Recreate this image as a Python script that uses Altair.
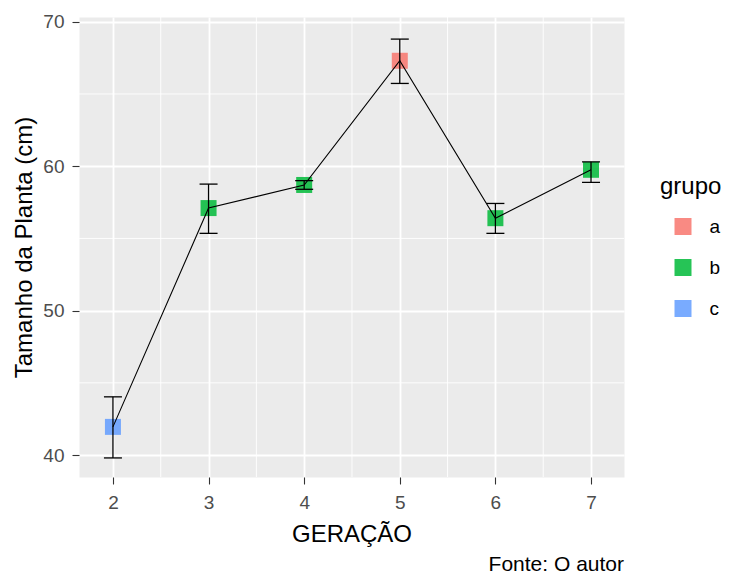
import altair as alt
import pandas as pd

# ---- data ----
geracao = [2, 3, 4, 5, 6, 7]
tamanho = [41.95, 57.1, 58.7, 67.3, 56.4, 59.75]
erro_inf = [39.8, 55.35, 58.4, 65.73, 55.35, 58.88]
erro_sup = [44.03, 58.76, 59.0, 68.8, 57.42, 60.3]
grupo = ["c", "b", "b", "a", "b", "b"]

grupos = ["a", "b", "c"]
cores = ["#F8766D", "#00BA38", "#619CFF"]

x_ticks = [2, 3, 4, 5, 6, 7]
y_ticks = [40, 50, 60, 70]
x_minor = [2.5, 3.5, 4.5, 5.5, 6.5]
y_minor = [45, 55, 65]

x_domain = [1.645, 7.345]
y_domain = [38.48, 70.33]

FONT = "Liberation Sans"

df = pd.DataFrame({
    "geracao": geracao,
    "tamanho": tamanho,
    "erro_inf": erro_inf,
    "erro_sup": erro_sup,
    "grupo": grupo,
})
df_xminor = pd.DataFrame({"geracao": x_minor})
df_yminor = pd.DataFrame({"tamanho": y_minor})

xscale = alt.Scale(domain=x_domain, nice=False, zero=False)
yscale = alt.Scale(domain=y_domain, nice=False, zero=False)

x_axis = alt.Axis(values=x_ticks, title="GERAÇÃO", titleY=64, titleBaseline="alphabetic",
                  labelPadding=9, format="d")
y_axis = alt.Axis(values=y_ticks, title="Tamanho da Planta (cm)", titleX=-48,
                  titleBaseline="alphabetic", labelPadding=8, format="d")


def X(field):
    return alt.X(field, type="quantitative", scale=xscale, axis=x_axis)


def Y(field):
    return alt.Y(field, type="quantitative", scale=yscale, axis=y_axis)


minor_x = alt.Chart(df_xminor).mark_rule(color="white", strokeWidth=0.9).encode(x=X("geracao"))
minor_y = alt.Chart(df_yminor).mark_rule(color="white", strokeWidth=0.9).encode(y=Y("tamanho"))

base = alt.Chart(df)

points = base.mark_point(shape="square", filled=True, size=256, opacity=0.85).encode(
    x=X("geracao"),
    y=Y("tamanho"),
    color=alt.Color(
        "grupo:N",
        scale=alt.Scale(domain=grupos, range=cores),
        legend=alt.Legend(
            title="grupo", orient="none", legendX=581, legendY=158,
            symbolType="square", symbolSize=289, symbolOpacity=0.85,
            symbolStrokeWidth=0, symbolOffset=13.5, labelOffset=17,
            rowPadding=21, titlePadding=18, padding=0,
            titleFontSize=24, titleFont=FONT, titleFontWeight="normal", titleColor="black",
            labelFontSize=19, labelFont=FONT, labelColor="black",
        ),
    ),
)

bars = base.mark_rule(color="black", strokeWidth=1.3).encode(
    x=X("geracao"), y=Y("erro_inf"), y2="erro_sup:Q",
)
cap_lo = base.mark_tick(orient="horizontal", size=18, thickness=1.3, color="black", opacity=1).encode(
    x=X("geracao"), y=Y("erro_inf"),
)
cap_hi = base.mark_tick(orient="horizontal", size=18, thickness=1.3, color="black", opacity=1).encode(
    x=X("geracao"), y=Y("erro_sup"),
)
line = base.mark_line(color="black", strokeWidth=1.1).encode(
    x=X("geracao"), y=Y("tamanho"),
)

chart = alt.layer(minor_x, minor_y, points, bars, cap_lo, cap_hi, line).properties(
    width=545,
    height=460,
    autosize=alt.AutoSizeParams(type="none"),
    padding={"left": 71, "top": 9, "right": 98, "bottom": 98},
    title=alt.TitleParams(
        "Fonte: O autor", orient="bottom", anchor="end", baseline="top", frame="group",
        fontSize=21, font=FONT, fontWeight="normal", color="black", offset=8,
    ),
).configure_view(
    fill="#EBEBEB", stroke="transparent"
).configure_axis(
    domain=False,
    grid=True,
    gridColor="white",
    gridWidth=1.8,
    tickColor="#333333",
    tickSize=7,
    tickWidth=1.1,
    labelColor="#4D4D4D",
    labelFontSize=19,
    labelFont=FONT,
    titleFont=FONT,
    titleFontSize=24,
    titleFontWeight="normal",
    titleColor="black",
)

chart.save("out.html", embed_options={"renderer": "svg", "actions": False})
